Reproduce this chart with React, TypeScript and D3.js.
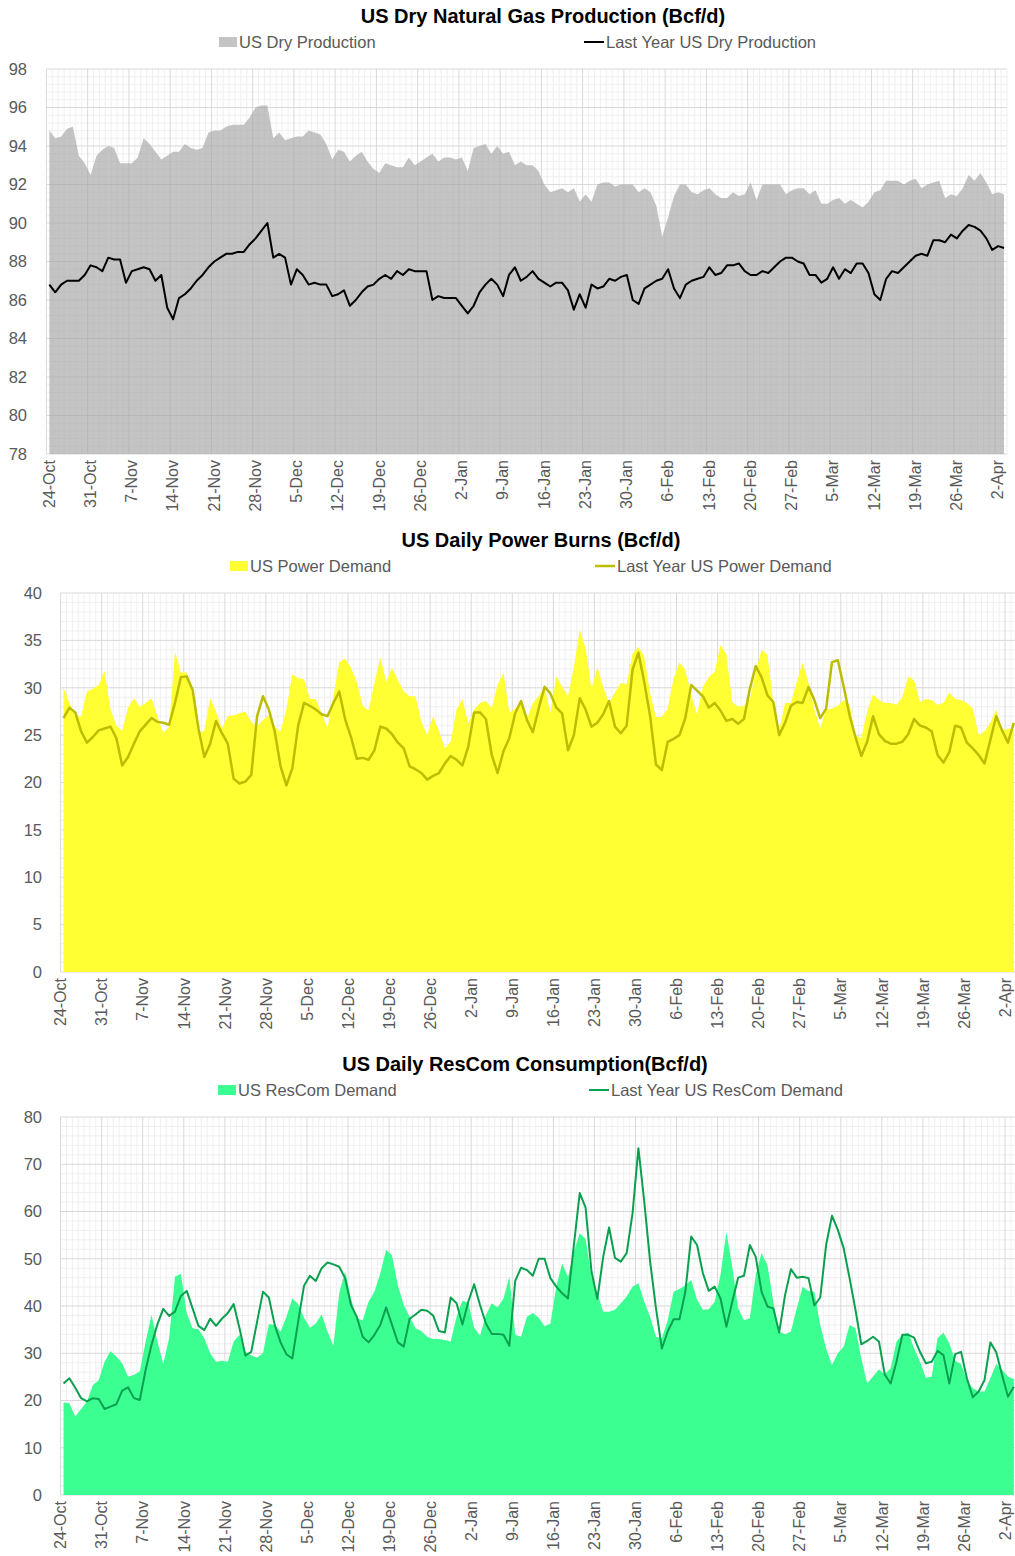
import * as d3 from 'd3';

// weekly tick labels (every 7 days from 24-Oct)
const tickLabels = [
  '24-Oct', '31-Oct', '7-Nov', '14-Nov', '21-Nov', '28-Nov', '5-Dec', '12-Dec',
  '19-Dec', '26-Dec', '2-Jan', '9-Jan', '16-Jan', '23-Jan', '30-Jan', '6-Feb',
  '13-Feb', '20-Feb', '27-Feb', '5-Mar', '12-Mar', '19-Mar', '26-Mar', '2-Apr',
];

// daily values, 24-Oct .. 3-Apr
const dryProd = [
  94.8, 94.4, 94.5, 94.9, 95.0, 93.5, 93.1, 92.5, 93.5, 93.8, 94.0, 93.9, 93.1, 93.1, 93.1, 93.4, 94.4, 94.1, 93.7, 93.3,
  93.5, 93.7, 93.7, 94.1, 93.9, 93.8, 93.9, 94.7, 94.8, 94.8, 95.0, 95.1, 95.1, 95.1, 95.5, 96.0, 96.1, 96.1, 94.4, 94.7,
  94.3, 94.4, 94.5, 94.5, 94.8, 94.7, 94.6, 94.1, 93.3, 93.8, 93.7, 93.2, 93.5, 93.7, 93.2, 92.8, 92.6, 93.1, 93.0, 92.9,
  92.9, 93.4, 93.0, 93.2, 93.4, 93.6, 93.2, 93.4, 93.4, 93.3, 93.4, 92.7, 93.9, 94.0, 94.1, 93.6, 94.0, 93.6, 93.7, 93.0,
  93.2, 93.0, 93.0, 92.7, 92.0, 91.6, 91.7, 91.8, 91.6, 91.8, 91.1, 91.5, 91.1, 92.0, 92.1, 92.1, 91.9, 92.0, 92.0, 92.0,
  91.6, 91.8, 91.6, 90.9, 89.3, 90.3, 91.4, 92.0, 92.0, 91.6, 91.5, 91.7, 91.8, 91.5, 91.3, 91.3, 91.6, 91.4, 91.5, 92.1,
  91.2, 92.0, 92.0, 92.0, 92.0, 91.5, 91.7, 91.8, 91.8, 91.5, 91.7, 91.0, 91.0, 91.2, 91.3, 91.0, 91.2, 91.0, 90.8, 91.1,
  91.6, 91.7, 92.2, 92.2, 92.2, 92.0, 92.2, 92.3, 91.8, 92.0, 92.1, 92.2, 91.3, 91.5, 91.4, 91.8, 92.5, 92.2, 92.6, 92.1,
  91.5, 91.6, 91.5,
];
const dryProdLY = [
  86.8, 86.4, 86.8, 87.0, 87.0, 87.0, 87.3, 87.8, 87.7, 87.5, 88.2, 88.1, 88.1, 86.9, 87.5, 87.6, 87.7, 87.6, 87.0, 87.3,
  85.6, 85.0, 86.1, 86.3, 86.6, 87.0, 87.3, 87.7, 88.0, 88.2, 88.4, 88.4, 88.5, 88.5, 88.9, 89.2, 89.6, 90.0, 88.2, 88.4,
  88.2, 86.8, 87.6, 87.3, 86.8, 86.9, 86.8, 86.8, 86.2, 86.3, 86.5, 85.7, 86.0, 86.4, 86.7, 86.8, 87.1, 87.3, 87.1, 87.5,
  87.3, 87.6, 87.5, 87.5, 87.5, 86.0, 86.2, 86.1, 86.1, 86.1, 85.7, 85.3, 85.7, 86.4, 86.8, 87.1, 86.8, 86.2, 87.3, 87.7,
  87.0, 87.2, 87.5, 87.1, 86.9, 86.7, 86.9, 86.9, 86.5, 85.5, 86.3, 85.6, 86.8, 86.6, 86.7, 87.1, 87.0, 87.2, 87.3, 86.0,
  85.8, 86.6, 86.8, 87.0, 87.1, 87.6, 86.6, 86.1, 86.8, 87.0, 87.1, 87.2, 87.7, 87.3, 87.4, 87.8, 87.8, 87.9, 87.5, 87.3,
  87.3, 87.5, 87.4, 87.7, 88.0, 88.2, 88.2, 88.0, 87.9, 87.3, 87.3, 86.9, 87.1, 87.7, 87.1, 87.6, 87.4, 87.9, 87.9, 87.4,
  86.3, 86.0, 87.1, 87.5, 87.4, 87.7, 88.0, 88.3, 88.4, 88.3, 89.1, 89.1, 89.0, 89.4, 89.2, 89.6, 89.9, 89.8, 89.6, 89.2,
  88.6, 88.8, 88.7,
];
const powerDemand = [
  30.0, 28.4, 27.0, 27.0, 29.6, 29.9, 30.3, 31.8, 27.7, 26.0, 25.5, 27.9, 28.9, 28.0, 28.4, 28.9, 27.0, 25.2, 25.9, 33.8,
  31.6, 31.6, 29.2, 25.2, 25.5, 28.9, 27.5, 25.7, 27.0, 27.1, 27.3, 27.5, 26.4, 25.9, 26.6, 27.1, 25.9, 25.4, 27.7, 31.4,
  31.0, 30.9, 28.8, 28.8, 27.3, 25.7, 29.1, 32.7, 33.1, 32.1, 30.6, 28.1, 27.6, 30.5, 33.2, 30.6, 32.1, 30.8, 29.6, 29.1,
  29.1, 26.4, 25.0, 27.0, 25.4, 23.6, 24.3, 27.7, 28.8, 26.2, 27.7, 28.4, 28.6, 27.9, 30.3, 31.6, 27.4, 27.8, 28.5, 26.7,
  28.4, 29.1, 30.1, 27.3, 31.2, 30.1, 29.1, 32.2, 36.1, 34.2, 29.9, 32.2, 30.1, 28.4, 29.5, 30.5, 30.4, 33.6, 34.3, 33.3,
  29.4, 26.9, 26.9, 27.8, 31.0, 32.7, 31.9, 29.2, 27.2, 30.1, 31.1, 31.7, 34.5, 33.5, 28.5, 28.0, 28.1, 28.7, 31.7, 34.0,
  33.5, 28.4, 25.5, 28.4, 28.4, 30.6, 32.7, 30.5, 27.7, 25.7, 27.7, 27.8, 28.1, 28.7, 28.2, 25.0, 24.7, 27.5, 29.3, 28.7,
  28.4, 28.4, 28.2, 29.0, 31.2, 30.8, 28.5, 28.8, 28.7, 28.2, 28.4, 29.5, 28.8, 28.7, 28.4, 27.8, 25.0, 25.4, 26.3, 27.7,
  25.5, 25.7, 25.6,
];
const powerDemandLY = [
  26.8, 27.9, 27.4, 25.4, 24.2, 24.8, 25.5, 25.7, 25.9, 24.7, 21.8, 22.7, 24.1, 25.4, 26.1, 26.8, 26.4, 26.3, 26.1, 28.4,
  31.1, 31.2, 29.8, 25.7, 22.7, 24.1, 26.5, 25.2, 24.1, 20.4, 19.9, 20.1, 20.8, 27.0, 29.1, 27.7, 25.4, 21.7, 19.7, 21.5,
  26.0, 28.4, 28.1, 27.7, 27.2, 27.0, 28.4, 29.6, 26.7, 24.8, 22.5, 22.6, 22.4, 23.4, 25.9, 25.7, 25.1, 24.2, 23.6, 21.7,
  21.4, 21.0, 20.3, 20.7, 21.0, 22.0, 22.8, 22.4, 21.8, 23.8, 27.4, 27.4, 26.7, 22.9, 21.0, 23.3, 24.7, 27.3, 28.6, 26.6,
  25.3, 27.8, 30.1, 29.4, 27.9, 27.3, 23.4, 25.0, 28.9, 27.7, 25.9, 26.3, 27.2, 28.6, 25.9, 25.2, 26.0, 31.9, 33.7, 30.6,
  27.0, 21.9, 21.3, 24.3, 24.6, 25.0, 26.8, 30.3, 29.7, 29.1, 27.9, 28.4, 27.6, 26.5, 26.7, 26.2, 26.7, 29.9, 32.3, 31.1,
  29.2, 28.5, 25.0, 26.3, 28.1, 28.5, 28.4, 30.1, 28.7, 26.8, 27.8, 32.7, 32.9, 30.1, 27.1, 24.8, 22.8, 24.3, 27.0, 25.1,
  24.4, 24.1, 24.1, 24.3, 25.1, 26.7, 26.0, 25.8, 25.4, 22.9, 22.1, 23.2, 26.0, 25.8, 24.2, 23.6, 22.9, 22.0, 24.5, 27.0,
  25.5, 24.2, 26.3,
];
const rescomDemand = [
  19.6, 19.4, 16.6, 18.2, 19.8, 23.3, 24.3, 28.2, 30.5, 29.3, 27.9, 25.1, 25.4, 26.2, 32.5, 38.1, 32.5, 27.7, 33.2, 46.2,
  46.8, 38.5, 35.3, 35.1, 33.2, 30.0, 28.2, 28.4, 28.2, 32.5, 33.9, 30.3, 29.5, 29.1, 30.0, 36.2, 36.0, 34.6, 37.7, 41.6,
  40.4, 37.5, 35.4, 36.3, 38.2, 34.6, 31.6, 42.7, 47.3, 41.6, 37.4, 37.0, 40.9, 43.0, 46.9, 51.9, 50.7, 44.4, 40.2, 37.7,
  35.3, 34.7, 33.5, 33.0, 33.0, 32.8, 32.5, 37.7, 41.1, 40.7, 35.4, 33.7, 38.1, 40.6, 39.7, 41.6, 46.2, 33.9, 33.5, 37.7,
  38.5, 37.5, 35.7, 36.3, 44.1, 49.0, 46.2, 51.5, 55.4, 54.2, 46.2, 42.7, 38.8, 38.8, 39.2, 40.6, 42.0, 44.1, 44.8, 40.9,
  37.7, 33.5, 33.2, 37.0, 43.0, 43.6, 44.4, 45.5, 41.3, 39.2, 39.3, 40.9, 46.6, 55.7, 48.3, 39.5, 37.0, 37.4, 46.6, 51.2,
  48.7, 40.9, 34.6, 34.0, 34.6, 39.5, 44.1, 43.2, 43.0, 36.0, 31.0, 27.5, 30.0, 31.4, 36.0, 35.3, 28.9, 23.6, 25.1, 26.6,
  25.5, 26.8, 32.5, 33.9, 34.4, 31.0, 28.2, 24.8, 25.1, 33.2, 34.4, 32.1, 28.4, 27.7, 24.3, 22.6, 21.9, 21.9, 24.7, 27.7,
  26.5, 25.1, 24.5,
];
const rescomDemandLY = [
  23.6, 24.7, 22.7, 20.5, 19.8, 20.5, 20.3, 18.2, 18.7, 19.2, 22.1, 22.8, 20.5, 20.1, 26.5, 31.8, 36.1, 39.4, 37.9, 38.8,
  42.1, 43.2, 39.5, 35.8, 34.9, 37.3, 35.8, 37.3, 38.5, 40.4, 35.3, 29.5, 30.3, 36.7, 43.0, 41.8, 36.0, 32.3, 29.8, 28.9,
  36.7, 44.3, 46.4, 45.3, 48.0, 49.2, 48.8, 48.3, 45.9, 40.2, 37.7, 33.5, 32.3, 33.9, 36.0, 39.7, 36.0, 32.3, 31.4, 37.3,
  38.2, 39.2, 39.0, 38.0, 34.7, 34.4, 41.8, 40.6, 36.1, 40.9, 44.6, 40.2, 36.3, 34.1, 34.1, 33.9, 31.6, 45.3, 48.1, 47.6,
  46.4, 50.0, 50.0, 45.9, 44.1, 42.7, 41.6, 52.9, 63.9, 60.8, 47.3, 41.5, 50.4, 56.6, 50.2, 49.4, 51.2, 59.6, 73.4, 62.1,
  49.4, 39.5, 31.0, 34.6, 37.2, 37.2, 43.0, 54.7, 52.9, 46.9, 43.2, 44.1, 41.6, 35.6, 40.9, 46.0, 46.4, 52.9, 50.4, 43.0,
  39.9, 39.5, 34.4, 42.3, 47.8, 46.0, 46.2, 45.9, 40.1, 41.8, 52.9, 59.1, 56.1, 52.2, 45.9, 39.2, 31.9, 32.6, 33.5, 32.5,
  25.5, 23.6, 28.2, 33.9, 33.9, 33.3, 30.3, 27.9, 28.2, 30.5, 29.6, 23.6, 29.8, 30.3, 24.7, 20.7, 21.9, 24.3, 32.3, 30.2,
  25.4, 20.8, 22.9,
];

const FONT = '"Liberation Sans", Arial, sans-serif';
const TXT = '#595959';

type Cfg = {
  title: string;
  titleX: number;
  titleY: number;
  area: number[];
  line: number[];
  areaName: string;
  lineName: string;
  areaFill: string;
  areaOpacity: number;
  lineColor: string;
  lineWidth: number;
  left: number;
  dayW: number;
  top: number;
  bottom: number;
  yMin: number;
  yMax: number;
  yStep: number;
  minorStep: number;
  yLabelRight: number;
  labelShift: number;
  legendY: number;
  legendAreaX: number;
  legendLineX: number;
};

function Panel(c: Cfg) {
  const n = c.area.length;
  const x = d3.scaleLinear().domain([0, n]).range([c.left, c.left + n * c.dayW]);
  const y = d3.scaleLinear().domain([c.yMin, c.yMax]).range([c.bottom, c.top]);

  const areaGen = d3.area<number>()
    .x((_, i) => x(i + 0.5))
    .y0(y(c.yMin))
    .y1(d => y(d));
  const lineGen = d3.line<number>()
    .x((_, i) => x(i + 0.5))
    .y(d => y(d));

  const eps = 1e-9;
  const majorY = d3.range(c.yMin, c.yMax + eps, c.yStep);
  const minorY = d3.range(c.yMin, c.yMax + eps, c.minorStep).filter(v => Math.abs(v / c.yStep - Math.round(v / c.yStep)) > 1e-6);
  const days = d3.range(0, n + 1);
  const x1 = x(n);

  return (
    <g fontFamily={FONT}>
      <text x={c.titleX} y={c.titleY} textAnchor="middle" dy="0.35em" fontSize={20} fontWeight="bold" fill="#000">
        {c.title}
      </text>

      {/* legend */}
      <rect x={c.legendAreaX} y={c.legendY - 5} width={18} height={10} fill={c.areaFill} opacity={c.areaOpacity} />
      <text x={c.legendAreaX + 20} y={c.legendY} dy="0.35em" fontSize={16.5} fill={TXT}>{c.areaName}</text>
      <line x1={c.legendLineX} x2={c.legendLineX + 20} y1={c.legendY} y2={c.legendY} stroke={c.lineColor} strokeWidth={c.lineWidth} />
      <text x={c.legendLineX + 22} y={c.legendY} dy="0.35em" fontSize={16.5} fill={TXT}>{c.lineName}</text>

      {/* grid */}
      {minorY.map(v => (
        <line key={'hm' + v} x1={c.left} x2={x1} y1={y(v)} y2={y(v)} stroke="#f0f0f0" strokeWidth={1} />
      ))}
      {days.filter(d => d % 7 !== 0).map(d => (
        <line key={'vm' + d} x1={x(d)} x2={x(d)} y1={c.top} y2={c.bottom} stroke="#f0f0f0" strokeWidth={1} />
      ))}
      {majorY.map(v => (
        <line key={'hM' + v} x1={c.left} x2={x1} y1={y(v)} y2={y(v)} stroke="#d9d9d9" strokeWidth={1} />
      ))}
      {days.filter(d => d % 7 === 0).map(d => (
        <line key={'vM' + d} x1={x(d)} x2={x(d)} y1={c.top} y2={c.bottom} stroke="#d9d9d9" strokeWidth={1} />
      ))}

      {/* series */}
      <path d={areaGen(c.area) || ''} fill={c.areaFill} opacity={c.areaOpacity} />
      <path d={lineGen(c.line) || ''} fill="none" stroke={c.lineColor} strokeWidth={c.lineWidth} strokeLinejoin="round" />

      {/* y axis labels */}
      {majorY.map(v => (
        <text key={'yl' + v} x={c.yLabelRight} y={y(v)} dy="0.35em" textAnchor="end" fontSize={16.5} fill={TXT}>
          {d3.format('d')(v)}
        </text>
      ))}

      {/* x axis labels */}
      {tickLabels.map((t, k) => (
        <text
          key={'xl' + t}
          transform={`translate(${x(k * 7 + 0.5) + c.labelShift},${c.bottom + 6}) rotate(-90)`}
          dy="0.33em"
          textAnchor="end"
          fontSize={16}
          fill={TXT}
        >
          {t}
        </text>
      ))}
    </g>
  );
}

export default function App() {
  return (
    <svg width={1015} height={1556} style={{ position: 'absolute', left: 0, top: 0, background: '#fff' }}>
      <rect width={1015} height={1556} fill="#fff" />
      <Panel
        title="US Dry Natural Gas Production (Bcf/d)"
        titleX={543} titleY={16}
        area={dryProd} line={dryProdLY}
        areaName="US Dry Production" lineName="Last Year US Dry Production"
        areaFill="#a5a5a5" areaOpacity={0.66}
        lineColor="#000" lineWidth={2}
        left={46.4} dayW={5.893} top={69} bottom={454}
        yMin={78} yMax={98} yStep={2} minorStep={0.4}
        yLabelRight={27} labelShift={0}
        legendY={42} legendAreaX={219} legendLineX={584}
      />
      <Panel
        title="US Daily Power Burns (Bcf/d)"
        titleX={541} titleY={540}
        area={powerDemand} line={powerDemandLY}
        areaName="US Power Demand" lineName="Last Year US Power Demand"
        areaFill="#ffff33" areaOpacity={1}
        lineColor="#bdbd00" lineWidth={2.5}
        left={60.6} dayW={5.866} top={593} bottom={972}
        yMin={0} yMax={40} yStep={5} minorStep={1}
        yLabelRight={42} labelShift={-2.5}
        legendY={566} legendAreaX={230} legendLineX={595}
      />
      <Panel
        title="US Daily ResCom Consumption(Bcf/d)"
        titleX={525} titleY={1064}
        area={rescomDemand} line={rescomDemandLY}
        areaName="US ResCom Demand" lineName="Last Year US ResCom Demand"
        areaFill="#3cff91" areaOpacity={1}
        lineColor="#0aa04f" lineWidth={2}
        left={60.6} dayW={5.866} top={1117} bottom={1495}
        yMin={0} yMax={80} yStep={10} minorStep={2}
        yLabelRight={42} labelShift={-2.5}
        legendY={1090} legendAreaX={218} legendLineX={589}
      />
    </svg>
  );
}
